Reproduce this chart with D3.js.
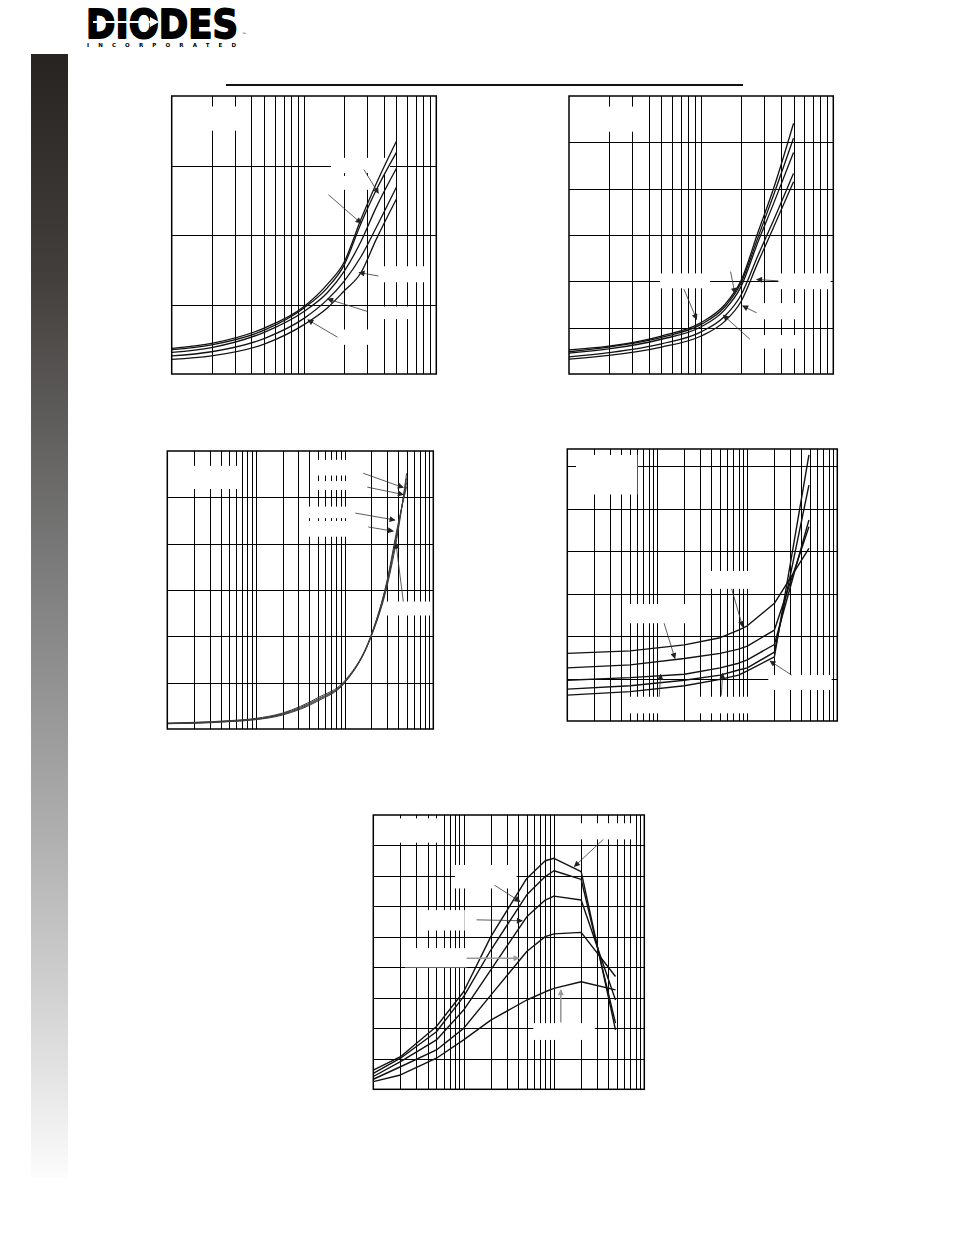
<!DOCTYPE html>
<html><head><meta charset="utf-8">
<script src="https://cdn.jsdelivr.net/npm/d3@7"></script>
<style>html,body{margin:0;padding:0;background:#fff}svg{display:block}</style>
</head><body>
<svg id="page" width="954" height="1235"></svg>
<script>
// ---------- DATA ----------
// Chart 1 (top left)
const ch1X = [1, 2, 5, 10, 15, 20, 27, 35, 50];
const ch1Curves = [
  [0.37, 0.44, 0.66, 0.97, 1.29, 1.60, 2.23, 2.73, 3.35],
  [0.35, 0.42, 0.63, 0.95, 1.24, 1.56, 2.17, 2.64, 3.19],
  [0.31, 0.38, 0.60, 0.90, 1.17, 1.47, 1.91, 2.39, 2.96],
  [0.26, 0.32, 0.51, 0.80, 1.07, 1.33, 1.69, 2.10, 2.69],
  [0.21, 0.26, 0.43, 0.71, 0.95, 1.19, 1.46, 1.93, 2.52]
];
const ch1Arrows = [[28.4, 2.94, 36.5, 2.60], [15.3, 2.58, 27, 2.17], [36.5, 1.41, 26.1, 1.46], [30.1, 0.90, 15.1, 1.08], [17.9, 0.53, 10.7, 0.78]];
const ch1Boxes = [[1.84, 3.19, 3.85, 3.50], [16.0, 44.7, 3.11, 2.89], [16.0, 31.2, 2.85, 2.65], [37.5, 84.5, 1.55, 1.32], [30.6, 61.4, 0.97, 0.79], [18.2, 30.6, 0.64, 0.42]];

// Chart 2 (top right)
const ch2X = [1, 2, 5, 10, 15, 20, 27, 35, 50];
const ch2Curves = [
  [0.52, 0.60, 0.82, 1.11, 1.49, 2.01, 3.07, 3.97, 5.41],
  [0.48, 0.58, 0.79, 1.07, 1.44, 1.96, 2.96, 3.83, 5.09],
  [0.45, 0.54, 0.75, 1.02, 1.38, 1.88, 2.86, 3.65, 4.78],
  [0.37, 0.46, 0.65, 0.91, 1.24, 1.70, 2.57, 3.29, 4.33],
  [0.32, 0.40, 0.58, 0.82, 1.13, 1.56, 2.42, 3.14, 4.15]
];
const ch2Arrows = [[16.7, 2.21, 18.0, 1.74], [7.41, 1.83, 9.25, 1.18], [38.4, 2.01, 26.3, 2.04], [26.3, 1.32, 20.6, 1.47], [23.4, 0.75, 14.7, 1.27]];
const ch2Boxes = [[1.48, 3.25, 5.77, 5.23], [4.88, 11.7, 2.17, 1.85], [38.4, 95.5, 2.17, 1.83], [29.2, 53.4, 1.53, 1.18], [28.7, 53.4, 0.84, 0.55]];

// Chart 3 (middle left)
const ch3X = [1, 2, 5, 10, 20, 50, 100, 200, 300, 400, 500];
const ch3Curves = [
  [0.115, 0.122, 0.158, 0.201, 0.302, 0.604, 0.993, 2.00, 3.07, 4.26, 5.52],
  [0.115, 0.129, 0.165, 0.209, 0.317, 0.626, 1.007, 2.01, 3.12, 4.33, 5.41],
  [0.122, 0.137, 0.173, 0.216, 0.331, 0.647, 1.02, 2.03, 3.17, 4.37, 5.32],
  [0.129, 0.144, 0.180, 0.230, 0.345, 0.676, 1.04, 2.04, 3.19, 4.42, 5.23]
];
const ch3Arrows = [[162, 5.52, 459, 5.21], [180, 5.22, 459, 5.06], [132, 4.66, 370, 4.51], [185, 4.36, 354, 4.27], [459, 2.75, 379, 4.01]];
const ch3Boxes = [[1.96, 6.16, 5.68, 5.18], [48.3, 105, 5.81, 5.47], [48.3, 105, 5.35, 5.16], [37.3, 105, 4.80, 4.55], [37.3, 105, 4.49, 4.15], [298, 957, 2.75, 2.45]];

// Chart 4 (middle right)
const ch4X = [1, 5, 20, 50, 80, 100, 200, 484];
const ch4Curves = [
  [1.59, 1.65, 1.79, 1.96, 2.14, 2.24, 2.77, 4.06],
  [1.25, 1.32, 1.47, 1.59, 1.69, 1.76, 2.14, 4.57],
  [0.96, 1.02, 1.10, 1.25, 1.36, 1.44, 1.80, 4.73],
  [0.75, 0.83, 0.96, 1.08, 1.20, 1.25, 1.62, 5.55],
  [0.61, 0.69, 0.83, 0.98, 1.08, 1.18, 1.51, 6.26]
];
const ch4Arrows = [[67, 3.11, 88.7, 2.22], [11.9, 2.30, 15.7, 1.47], [10.5, 0.57, 10.9, 1.10], [51.4, 0.60, 53.2, 1.12], [311, 1.08, 179, 1.41]];
const ch4Boxes = [[1.25, 6.0, 6.26, 5.33], [39.1, 103, 3.53, 3.11], [4.19, 20.8, 2.75, 2.30], [4.37, 19.8, 0.57, 0.18], [21.2, 103, 0.57, 0.18], [171, 865, 1.08, 0.73]];

// Chart 5 (bottom)
const ch5X = [1, 2, 5, 10, 20, 50, 80, 100, 200, 480];
const ch5Curves = [
  [0.63, 1.07, 2.06, 3.20, 5.01, 6.92, 7.50, 7.58, 7.14, 1.95],
  [0.52, 1.02, 1.89, 3.04, 4.57, 6.38, 6.98, 7.17, 6.89, 2.17],
  [0.42, 0.91, 1.62, 2.60, 3.92, 5.66, 6.21, 6.34, 6.21, 2.93],
  [0.33, 0.74, 1.29, 2.00, 3.09, 4.52, 5.01, 5.10, 5.15, 3.70],
  [0.25, 0.47, 1.02, 1.62, 2.27, 2.93, 3.20, 3.31, 3.53, 3.26]
];
const ch5Arrows = [[352, 8.20, 168, 7.31], [21.9, 6.70, 42.1, 6.16], [13.9, 5.56, 44.6, 5.53], [10.8, 4.30, 41.0, 4.30, "gray"], [119, 2.19, 119, 3.26, "gray"]];
const ch5Boxes = [[1.04, 5.61, 8.89, 8.09], [194, 724, 8.73, 8.20], [8.02, 38.6, 7.36, 6.59], [3.15, 10.3, 5.88, 5.21], [2.24, 10.8, 4.63, 4.00], [59.1, 284, 2.17, 1.62]];

const logoName = "DIODES";
const logoSub = "INCORPORATED";
const logoMark = "™";

// ---------- DRAW ----------
const svg = d3.select("#page");
const defs = svg.append("defs");
const grad = defs.append("linearGradient").attr("id", "barGrad").attr("x1", 0).attr("y1", 0).attr("x2", 0).attr("y2", 1);
[[0, "#272320"], [0.2, "#433f3d"], [0.45, "#7a7a7a"], [0.7, "#b0b0b0"], [0.88, "#dcdcdc"], [1, "#fcfcfc"]]
  .forEach(([o, c]) => grad.append("stop").attr("offset", o).attr("stop-color", c));
["dark", "gray"].forEach(k => {
  defs.append("marker").attr("id", "ah-" + k).attr("viewBox", "0 0 10 10").attr("refX", 9).attr("refY", 5)
    .attr("markerWidth", 7).attr("markerHeight", 6).attr("markerUnits", "userSpaceOnUse").attr("orient", "auto")
    .append("path").attr("d", "M0,0L10,5L0,10Z").attr("fill", k === "dark" ? "#222" : "#999");
});

// left bar
svg.append("rect").attr("x", 31).attr("y", 54).attr("width", 37).attr("height", 1124).attr("fill", "url(#barGrad)");

// logo
svg.append("text").attr("transform", "translate(86,37.5) scale(1,1.12)").text(logoName)
  .attr("font-family", "DejaVu Sans").attr("font-weight", "bold").attr("font-size", 35.5)
  .attr("fill", "#000").attr("stroke", "#000").attr("stroke-width", 1.6).attr("stroke-linejoin", "round");
svg.append("line").attr("x1", 93).attr("x2", 150).attr("y1", 22).attr("y2", 22).attr("stroke", "#fff").attr("stroke-width", 2);
svg.append("path").attr("d", "M150,17L159,22L150,27Z").attr("fill", "#fff");
svg.append("text").attr("x", 87).attr("y", 46.5).text(logoSub)
  .attr("font-family", "DejaVu Sans").attr("font-weight", "bold").attr("font-size", 5.5)
  .attr("textLength", 149).attr("lengthAdjust", "spacing").attr("fill", "#000");
svg.append("text").attr("x", 242).attr("y", 36).text(logoMark).attr("font-family", "DejaVu Sans").attr("font-size", 4.5);

// rule
svg.append("rect").attr("x", 226).attr("y", 84).attr("width", 517).attr("height", 2).attr("fill", "#111");

function drawChart(cfg) {
  const g = svg.append("g").attr("transform", `translate(${cfg.left},${cfg.top})`);
  const x = d3.scaleLog().domain(cfg.xDomain).range([0, cfg.w]);
  const y = d3.scaleLinear().domain(cfg.yDomain).range([cfg.h, 0]);
  const xt = x.ticks().filter(v => v > cfg.xDomain[0] && v < cfg.xDomain[1]);
  g.append("g").attr("transform", `translate(0,${cfg.h})`)
    .call(d3.axisBottom(x).tickValues(xt).tickSize(-cfg.h).tickFormat(""))
    .call(s => s.select(".domain").remove())
    .call(s => s.selectAll("line").attr("stroke", "#000").attr("stroke-width", 1).attr("shape-rendering", "crispEdges"));
  g.append("g")
    .call(d3.axisLeft(y).tickValues(cfg.yGrid).tickSize(-cfg.w).tickFormat(""))
    .call(s => s.select(".domain").remove())
    .call(s => s.selectAll("line").attr("stroke", "#000").attr("stroke-width", 1).attr("shape-rendering", "crispEdges"));
  // label masks
  g.selectAll("rect.box").data(cfg.boxes).join("rect").attr("class", "box")
    .attr("x", d => x(d[0])).attr("width", d => x(d[1]) - x(d[0]))
    .attr("y", d => y(d[2])).attr("height", d => y(d[3]) - y(d[2])).attr("fill", "#fff");
  // curves
  const line = d3.line().x((d, i) => x(cfg.xs[i])).y(d => y(d)).curve(cfg.curve);
  g.selectAll("path.curve").data(cfg.curves).join("path").attr("class", "curve")
    .attr("d", line).attr("fill", "none").attr("stroke", cfg.stroke).attr("stroke-width", cfg.sw).attr("stroke-linejoin", "round");
  // arrows
  g.selectAll("line.arrow").data(cfg.arrows).join("line").attr("class", "arrow")
    .attr("x1", d => x(d[0])).attr("y1", d => y(d[1])).attr("x2", d => x(d[2])).attr("y2", d => y(d[3]))
    .attr("stroke", d => d[4] === "gray" ? "#999" : "#333").attr("stroke-width", d => d[4] === "gray" ? 1.6 : 0.8)
    .attr("marker-end", d => d[4] === "gray" ? "url(#ah-gray)" : "url(#ah-dark)");
  // frame
  g.append("rect").attr("width", cfg.w).attr("height", cfg.h).attr("fill", "none").attr("stroke", "#000").attr("stroke-width", 1.5);
}

drawChart({left: 171.7, top: 96, w: 264.6, h: 278, xDomain: [1, 100], yDomain: [0, 4], yGrid: [1, 2, 3],
  xs: ch1X, curves: ch1Curves, arrows: ch1Arrows, boxes: ch1Boxes, curve: d3.curveMonotoneX, stroke: "#111", sw: 1.3});
drawChart({left: 569, top: 96, w: 264.3, h: 278, xDomain: [1, 100], yDomain: [0, 6], yGrid: [1, 2, 3, 4, 5],
  xs: ch2X, curves: ch2Curves, arrows: ch2Arrows, boxes: ch2Boxes, curve: d3.curveMonotoneX, stroke: "#111", sw: 1.3});
drawChart({left: 167.3, top: 451, w: 266, h: 278, xDomain: [1, 1000], yDomain: [0, 6], yGrid: [1, 2, 3, 4, 5],
  xs: ch3X, curves: ch3Curves, arrows: ch3Arrows, boxes: ch3Boxes, curve: d3.curveMonotoneX, stroke: "#3a3a3a", sw: 1});
drawChart({left: 567.3, top: 449, w: 270, h: 272, xDomain: [1, 1000], yDomain: [0, 6.4], yGrid: [1, 2, 3, 4, 5, 6],
  xs: ch4X, curves: ch4Curves, arrows: ch4Arrows, boxes: ch4Boxes, curve: d3.curveLinear, stroke: "#111", sw: 1.4});
drawChart({left: 373.3, top: 815, w: 271, h: 274.3, xDomain: [1, 1000], yDomain: [0, 9], yGrid: [1, 2, 3, 4, 5, 6, 7, 8],
  xs: ch5X, curves: ch5Curves, arrows: ch5Arrows, boxes: ch5Boxes, curve: d3.curveLinear, stroke: "#111", sw: 1.4});
</script>
</body></html>
